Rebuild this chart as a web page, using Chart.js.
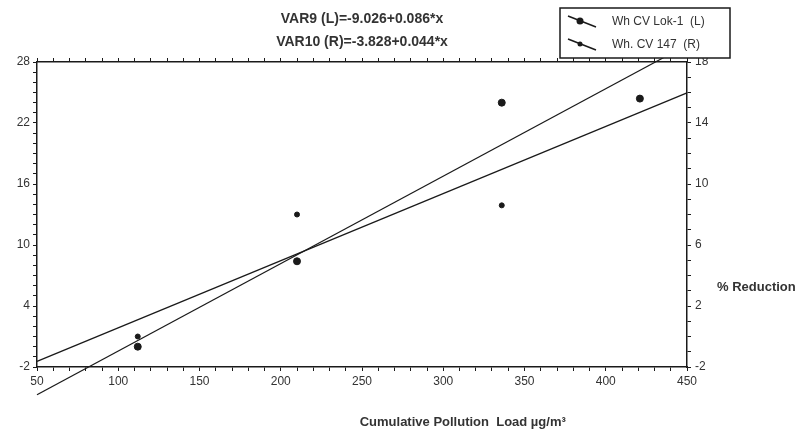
<!DOCTYPE html>
<html>
<head>
<meta charset="utf-8">
<script src="https://cdn.jsdelivr.net/npm/chart.js@4.4.1/dist/chart.umd.min.js"></script>
<style>
    body { margin: 0; background: #fff; }
    #wrap { position: relative; width: 803px; height: 435px; }
</style>
</head>
<body>
<div id="wrap"><canvas id="chart" width="803" height="435"></canvas></div>
<script>
// --- data ---
const loadX = [112, 210, 336, 421];          // Cumulative pollution load
const lok1 = [0, 8.4, 24, 24.4];             // Wh CV Lok-1 (L axis)
const cv147 = [0, 8, 8.6, 15.6];             // Wh. CV 147 (R axis)

// fitted lines (end points at x = 50 and x = 450)
const fitX = [50, 450];
const fitL = [-4.73, 29.67];                 // VAR9 (L)
const fitR = [-1.63, 15.97];                 // VAR10 (R)

const titleLines = ['VAR9 (L)=-9.026+0.086*x', 'VAR10 (R)=-3.828+0.044*x'];
const legendLabels = ['Wh CV Lok-1  (L)', 'Wh. CV 147  (R)'];
const xTitle = 'Cumulative Pollution  Load µg/m³';
const yRightTitle = '% Reduction';

const ink = '#1a1a1a';
const textCol = '#333';
const font = '"Liberation Sans", Arial, sans-serif';

function pts(xs, ys) {
    return xs.map((x, i) => ({ x: x, y: ys[i] }));
}

// texts and the boxed legend
const extras = {
    id: 'extras',
    afterDraw(chart) {
        const ctx = chart.ctx;
        const area = chart.chartArea;
        ctx.save();
        ctx.fillStyle = textCol;
        ctx.textAlign = 'center';
        ctx.textBaseline = 'middle';
        ctx.font = 'bold 14px ' + font;
        ctx.fillText(titleLines[0], (area.left + area.right) / 2, 19);
        ctx.fillText(titleLines[1], (area.left + area.right) / 2, 42);

        ctx.font = 'bold 13px ' + font;
        ctx.fillText(xTitle, area.left + (area.right - area.left) * 0.655, 422);

        ctx.textAlign = 'left';
        ctx.fillText(yRightTitle, area.right + 30, 287);

        // legend
        const bx = 560, by = 8, bw = 170, bh = 50;
        ctx.fillStyle = '#fff';
        ctx.fillRect(bx, by, bw, bh);
        ctx.strokeStyle = ink;
        ctx.lineWidth = 1.5;
        ctx.strokeRect(bx, by, bw, bh);
        const rows = [by + 14, by + 37];
        const radii = [3.5, 2.5];
        ctx.font = '12px ' + font;
        rows.forEach((ry, i) => {
            ctx.strokeStyle = ink;
            ctx.lineWidth = 1.5;
            ctx.beginPath();
            ctx.moveTo(bx + 8, ry - 6);
            ctx.lineTo(bx + 36, ry + 5);
            ctx.stroke();
            ctx.fillStyle = ink;
            ctx.beginPath();
            ctx.arc(bx + 20, ry - 1, radii[i], 0, Math.PI * 2);
            ctx.fill();
            ctx.fillStyle = textCol;
            ctx.fillText(legendLabels[i], bx + 52, ry);
        });
        ctx.restore();
    }
};

new Chart(document.getElementById('chart'), {
    data: {
        datasets: [
            {
                type: 'line', label: 'VAR9', data: pts(fitX, fitL), yAxisID: 'y',
                borderColor: ink, borderWidth: 1.3, pointRadius: 0, clip: false
            },
            {
                type: 'line', label: 'VAR10', data: pts(fitX, fitR), yAxisID: 'y1',
                borderColor: ink, borderWidth: 1.3, pointRadius: 0, clip: false
            },
            {
                type: 'scatter', label: legendLabels[0], data: pts(loadX, lok1), yAxisID: 'y',
                backgroundColor: ink, borderColor: ink, pointRadius: 3.5
            },
            {
                type: 'scatter', label: legendLabels[1], data: pts(loadX, cv147), yAxisID: 'y1',
                backgroundColor: ink, borderColor: ink, pointRadius: 2.5
            }
        ]
    },
    options: {
        responsive: false,
        animation: false,
        layout: { padding: { top: 56, bottom: 0, left: 0, right: 0 } },
        plugins: {
            legend: { display: false },
            tooltip: { enabled: false }
        },
        scales: {
            x: {
                type: 'linear', position: 'bottom', min: 50, max: 450,
                afterFit: s => { s.height = 68; },
                border: { color: ink, width: 1.5 },
                grid: { drawOnChartArea: false, color: ink, tickLength: 4 },
                ticks: {
                    stepSize: 10, autoSkip: false, maxRotation: 0, padding: 3,
                    color: textCol, font: { family: font, size: 12 },
                    callback: v => (v % 50 === 0 ? v : '')
                }
            },
            xTop: {
                type: 'linear', position: 'top', min: 50, max: 450,
                afterFit: s => { s.height = 6; },
                border: { color: ink, width: 1.5 },
                grid: { drawOnChartArea: false, color: ink, tickLength: 4 },
                ticks: { stepSize: 10, autoSkip: false, display: false }
            },
            y: {
                type: 'linear', position: 'left', min: -2, max: 28,
                afterFit: s => { s.width = 37; },
                border: { color: ink, width: 1.5 },
                grid: { drawOnChartArea: false, color: ink, tickLength: 4 },
                ticks: {
                    stepSize: 1, autoSkip: false, padding: 3,
                    color: textCol, font: { family: font, size: 12 },
                    callback: v => ((v + 2) % 6 === 0 ? v : '')
                }
            },
            y1: {
                type: 'linear', position: 'right', min: -2, max: 18,
                afterFit: s => { s.width = 116; },
                border: { color: ink, width: 1.5 },
                grid: { drawOnChartArea: false, color: ink, tickLength: 4 },
                ticks: {
                    stepSize: 1, autoSkip: false, padding: 4,
                    color: textCol, font: { family: font, size: 12 },
                    callback: v => ((v + 2) % 4 === 0 ? v : '')
                }
            }
        }
    },
    plugins: [extras]
});
</script>
</body>
</html>
